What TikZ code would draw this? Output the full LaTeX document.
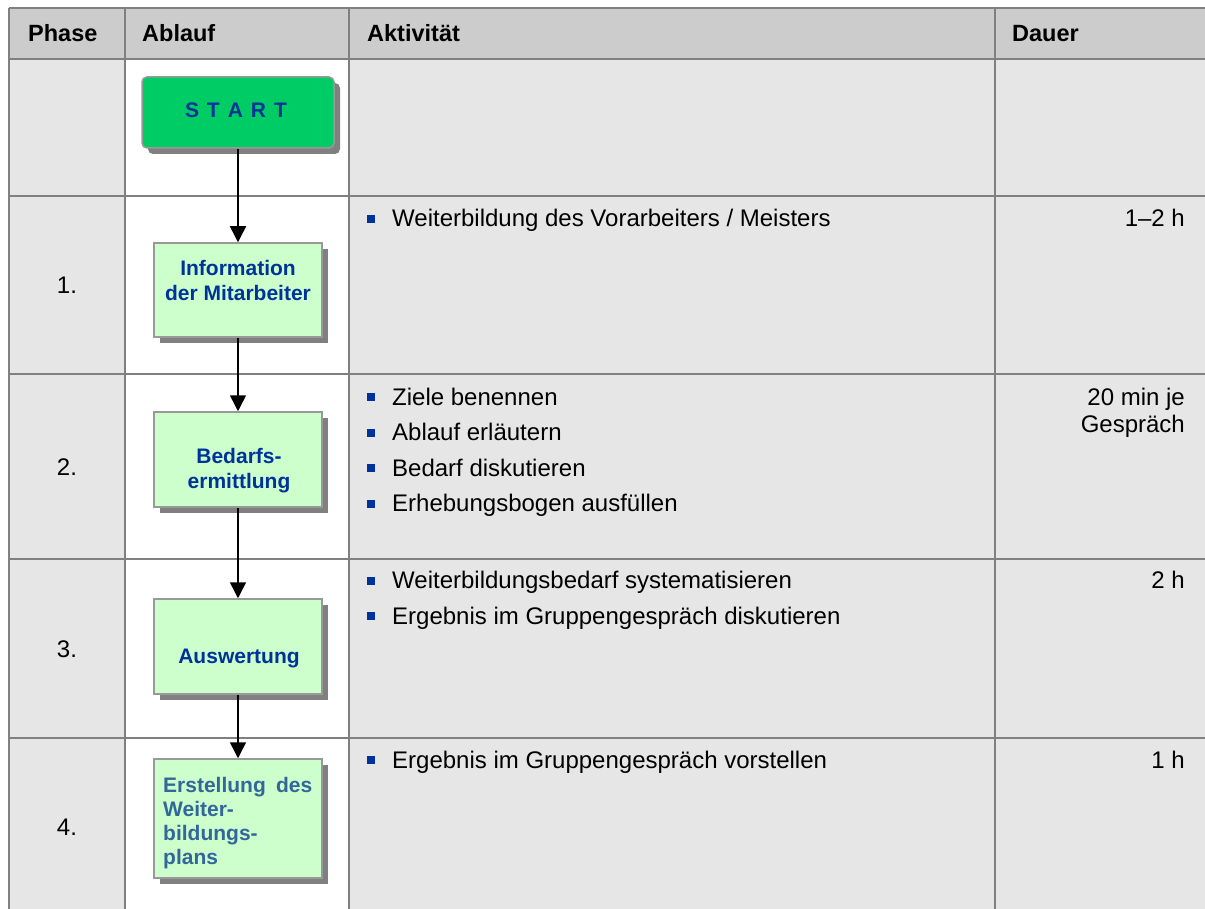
\documentclass[tikz,border=0pt]{standalone}
\usepackage{fontspec}
\setmainfont{Liberation Sans}
\usetikzlibrary{arrows.meta,shadows}
\definecolor{hdrgray}{HTML}{CCCCCC}
\definecolor{cellgray}{HTML}{E6E6E6}
\definecolor{gridgray}{HTML}{808080}
\definecolor{boxgreen}{HTML}{CCFFCC}
\definecolor{startgreen}{HTML}{00CC66}
\definecolor{boxedge}{HTML}{999999}
\definecolor{shadowgray}{HTML}{808080}
\definecolor{textblue}{HTML}{003399}
\definecolor{textblueB}{HTML}{336699}
\definecolor{bulletblue}{HTML}{003399}
\newcommand\myBody{\fontsize{24pt}{27pt}\selectfont}
\newcommand\myHdr{\fontsize{23.5pt}{27pt}\selectfont\bfseries}
\newcommand\myBox{\fontsize{21pt}{25pt}\selectfont\bfseries}
\tikzset{
  gridline/.style={draw=gridgray, line width=2pt},
  flowbox/.style={draw=boxedge, line width=1.5pt, fill=boxgreen, minimum width=168pt,
    minimum height=95pt, inner sep=0pt,
    drop shadow={shadow xshift=6pt, shadow yshift=-6pt, fill=shadowgray, opacity=1}},
  startbox/.style={flowbox, fill=startgreen, rounded corners=5pt, minimum width=192pt, minimum height=71pt},
  boxtxt/.style={font=\myBox, text=textblue, anchor=base, inner sep=0pt},
  boxtxtL/.style={font=\myBox, text=textblueB, anchor=base west, inner sep=0pt},
  arr/.style={-{Triangle[length=16pt,width=16pt]}, line width=1.5pt, draw=black},
  hdr/.style={font=\myHdr, anchor=base west, inner sep=0pt},
  txt/.style={font=\myBody, anchor=base west, inner sep=0pt},
  phase/.style={font=\myBody, anchor=base, inner sep=0pt},
  dur/.style={font=\myBody, anchor=base east, inner sep=0pt},
  bul/.style={fill=bulletblue, minimum size=8pt, inner sep=0pt, anchor=center}
}
\begin{document}
\begin{tikzpicture}[x=1pt,y=-1pt]
\useasboundingbox (0,0) rectangle (1205,909);
% backgrounds
\fill[white] (0,0) rectangle (1205,909);
\fill[hdrgray] (9,8) rectangle (1205,59);
\fill[cellgray] (9,59) rectangle (125,909);
\fill[cellgray] (349,59) rectangle (1205,909);
% grid
\foreach \x in {9,125,349,995} \draw[gridline] (\x,8) -- (\x,909);
\foreach \y in {8,59,196,374,559,738} \draw[gridline] (9,\y) -- (1205,\y);
% header
\node[hdr] (hPhase) at (28,42) {Phase};
\node[hdr] (hAblauf) at (142,42) {Ablauf};
\node[hdr] (hAkt) at (367,42) {Aktivität};
\node[hdr] (hDauer) at (1012,42) {Dauer};
% phases
\node[phase] (p1) at (67,294) {1.};
\node[phase] (p2) at (67,475) {2.};
\node[phase] (p3) at (67,657) {3.};
\node[phase] (p4) at (67,835) {4.};
% flow boxes
\node[startbox] (start) at (238,112.5) {};
\node[flowbox, minimum height=94pt] (info) at (238,290) {};
\node[flowbox] (bedarf) at (238,459.5) {};
\node[flowbox] (ausw) at (238,646.5) {};
\node[flowbox, minimum height=119pt] (erst) at (238,818.5) {};
% box texts
\node[boxtxt] (startT) at (236,118) {S\hspace{8pt}T\hspace{8pt}A\hspace{8pt}R\hspace{8pt}T};
\node[boxtxt] (infoT1) at (238,276) {Information};
\node[boxtxt] (infoT2) at (238,301) {der Mitarbeiter};
\node[boxtxt] (bedT1) at (239,463) {Bedarfs-};
\node[boxtxt] (bedT2) at (239,488) {ermittlung};
\node[boxtxt] (ausT) at (239,663) {Auswertung};
\node[boxtxtL] (erT1) at (163,792) {\makebox[149pt][s]{Erstellung des}};
\node[boxtxtL] (erT2) at (163,816) {Weiter-};
\node[boxtxtL] (erT3) at (163,840) {bildungs-};
\node[boxtxtL] (erT4) at (163,864) {plans};
% arrows
\draw[arr] (start) -- (info);
\draw[arr] (info) -- (bedarf);
\draw[arr] (bedarf) -- (ausw);
\draw[arr] (ausw) -- (erst);
% activities
\node[bul] (b1) at (371,219) {};
\node[txt] (t1) at (392,227) {Weiterbildung des Vorarbeiters / Meisters};
\node[bul] (b2a) at (371,397) {};
\node[txt] (t2a) at (392,405) {Ziele benennen};
\node[bul] (b2b) at (371,432.5) {};
\node[txt] (t2b) at (392,440.5) {Ablauf erläutern};
\node[bul] (b2c) at (371,468) {};
\node[txt] (t2c) at (392,476) {Bedarf diskutieren};
\node[bul] (b2d) at (371,503.5) {};
\node[txt] (t2d) at (392,511.5) {Erhebungsbogen ausfüllen};
\node[bul] (b3a) at (371,580.5) {};
\node[txt] (t3a) at (392,588.5) {Weiterbildungsbedarf systematisieren};
\node[bul] (b3b) at (371,616) {};
\node[txt] (t3b) at (392,624) {Ergebnis im Gruppengespräch diskutieren};
\node[bul] (b4) at (371,760) {};
\node[txt] (t4) at (392,768) {Ergebnis im Gruppengespräch vorstellen};
% durations
\node[dur] (d1) at (1185,227) {1–2 h};
\node[dur] (d2a) at (1185,405) {20 min je};
\node[dur] (d2b) at (1185,432) {Gespräch};
\node[dur] (d3) at (1185,588.5) {2 h};
\node[dur] (d4) at (1185,768) {1 h};
\end{tikzpicture}
\end{document}
